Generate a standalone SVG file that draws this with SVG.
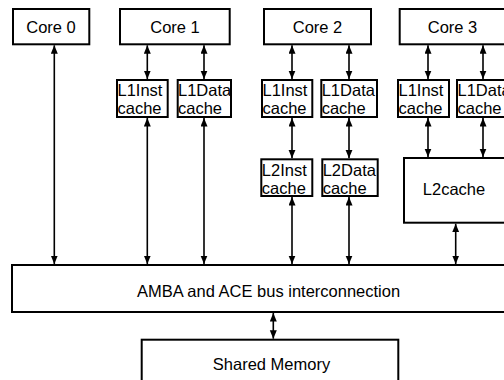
<svg xmlns="http://www.w3.org/2000/svg" width="504" height="380" viewBox="0 0 504 380">
<style>
.box{fill:#fff;stroke:#000;stroke-width:2}
.t{font-family:"Liberation Sans",Arial,sans-serif;font-size:16.5px;fill:#000}
.c{text-anchor:middle}
.conn line{stroke:#000;stroke-width:1.6;marker-start:url(#ah);marker-end:url(#ah)}
</style>
<defs>
<marker id="ah" markerUnits="userSpaceOnUse" markerWidth="9" markerHeight="8" refX="8.5" refY="3.5" orient="auto-start-reverse">
<path d="M0,0 L8.5,3.5 L0,7 z" fill="#000"/>
</marker>
</defs>
<rect width="504" height="380" fill="#fff"/>
<g id="core0"><rect class="box" x="13" y="9" width="76.3" height="35.3"/><text class="t c" x="51" y="33">Core 0</text></g>
<g id="core1"><rect class="box" x="120" y="9" width="109.7" height="35.3"/><text class="t c" x="175" y="33">Core 1</text></g>
<g id="core2"><rect class="box" x="264" y="9" width="107" height="35.3"/><text class="t c" x="317.5" y="33">Core 2</text></g>
<g id="core3"><rect class="box" x="399.7" y="9" width="110" height="35.3"/><text class="t c" x="452.5" y="33">Core 3</text></g>
<g id="l1i1"><rect class="box" x="117" y="80" width="50.7" height="37"/><text class="t" x="117.5" y="95.5">L1Inst</text><text class="t" x="117.5" y="113.5">cache</text></g>
<g id="l1d1"><rect class="box" x="177.7" y="80" width="53.3" height="37"/><text class="t" x="178" y="95.5">L1Data</text><text class="t" x="178" y="113.5">cache</text></g>
<g id="l1i2"><rect class="box" x="262" y="80" width="50.3" height="37"/><text class="t" x="262.5" y="95.5">L1Inst</text><text class="t" x="262.5" y="113.5">cache</text></g>
<g id="l1d2"><rect class="box" x="321.3" y="80" width="55.7" height="37"/><text class="t" x="321.7" y="95.5">L1Data</text><text class="t" x="321.7" y="113.5">cache</text></g>
<g id="l1i3"><rect class="box" x="398" y="80" width="51" height="37"/><text class="t" x="398.5" y="95.5">L1Inst</text><text class="t" x="398.5" y="113.5">cache</text></g>
<g id="l1d3"><rect class="box" x="457" y="80" width="55" height="37"/><text class="t" x="457.5" y="95.5">L1Data</text><text class="t" x="457.5" y="113.5">cache</text></g>
<g id="l2i2"><rect class="box" x="261.3" y="159.3" width="51" height="36.7"/><text class="t" x="261.8" y="175.5">L2Inst</text><text class="t" x="261.8" y="193.8">cache</text></g>
<g id="l2d2"><rect class="box" x="322.3" y="159.3" width="55.4" height="36.7"/><text class="t" x="322.7" y="175.5">L2Data</text><text class="t" x="322.7" y="193.8">cache</text></g>
<g id="l2c3"><rect class="box" x="404" y="158" width="106" height="64.7"/><text class="t c" x="454" y="195">L2cache</text></g>
<g id="bus"><rect class="box" x="12" y="265" width="514" height="47"/><text class="t c" x="268.5" y="297.3">AMBA and ACE bus interconnection</text></g>
<g id="mem"><rect class="box" x="141.7" y="339.7" width="256.6" height="50"/><text class="t c" x="271.5" y="370">Shared Memory</text></g>
<g class="conn" id="connectors">
<line x1="54.3" y1="45.3" x2="54.3" y2="264"/>
<line x1="147.3" y1="45.3" x2="147.3" y2="79"/>
<line x1="204" y1="45.3" x2="204" y2="79"/>
<line x1="147.3" y1="118" x2="147.3" y2="264"/>
<line x1="204" y1="118" x2="204" y2="264"/>
<line x1="292" y1="45.3" x2="292" y2="79"/>
<line x1="349" y1="45.3" x2="349" y2="79"/>
<line x1="292" y1="118" x2="292" y2="158.3"/>
<line x1="349" y1="118" x2="349" y2="158.3"/>
<line x1="292" y1="197" x2="292" y2="264"/>
<line x1="349" y1="197" x2="349" y2="264"/>
<line x1="428" y1="45.3" x2="428" y2="79"/>
<line x1="483" y1="45.3" x2="483" y2="79"/>
<line x1="428" y1="118" x2="428" y2="157"/>
<line x1="483" y1="118" x2="483" y2="157"/>
<line x1="455.7" y1="223.7" x2="455.7" y2="264"/>
<line x1="273.3" y1="313" x2="273.3" y2="338.7"/>
</g>
</svg>
